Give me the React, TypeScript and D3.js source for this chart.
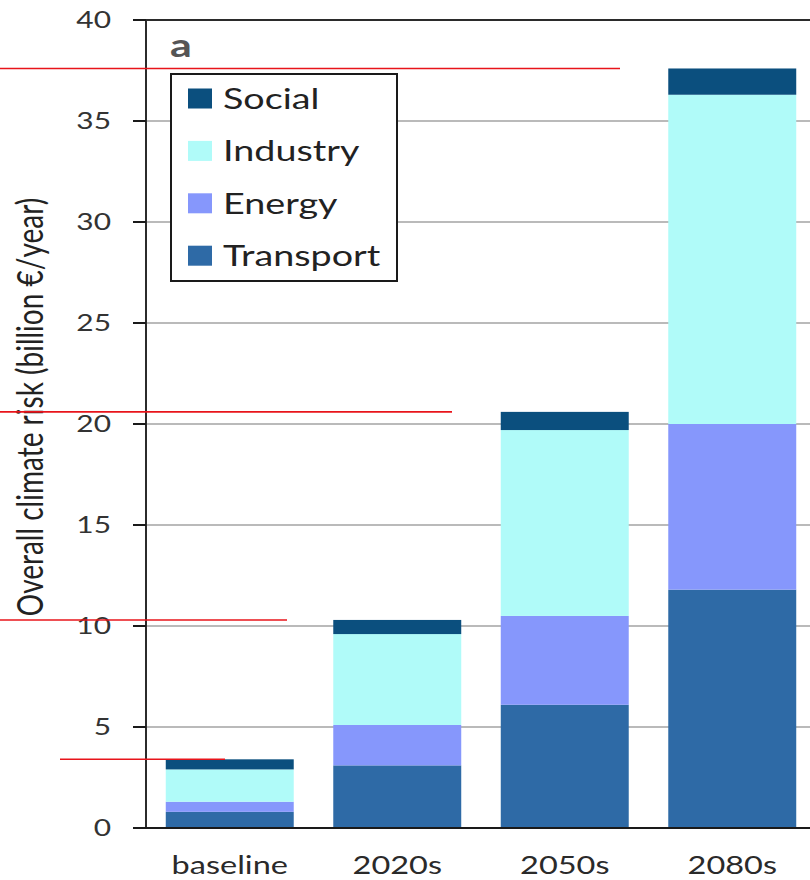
import React from "react";
import * as d3 from "d3";

// Overall climate risk by sector and period (billion €/year)
const periods = ["baseline", "2020s", "2050s", "2080s"];
const sectors = ["Transport", "Energy", "Industry", "Social"];
const transport = [0.8, 3.1, 6.1, 11.8];
const energy = [0.5, 2.0, 4.4, 8.2];
const industry = [1.6, 4.5, 9.2, 16.3];
const social = [0.5, 0.7, 0.9, 1.3];
const yTicks = [0, 5, 10, 15, 20, 25, 30, 35, 40];
const panelLabel = "a";
const yTitle = "Overall climate risk (billion €/year)";

const W = 810;
const H = 880;
const M = { left: 146, right: 816, top: 20, bottom: 828 };
const SX = 1.3; // horizontal glyph stretch
const FONT = "Lato, 'Open Sans', sans-serif";

const colors: Record<string, string> = {
  Social: "#0b4f7e",
  Industry: "#b0fbf9",
  Energy: "#8697fc",
  Transport: "#2e6aa6",
};

// Red marker lines at each bar total, with their horizontal extents
const markerSpans: [number, number][] = [
  [60, 225],
  [0, 287],
  [0, 452],
  [0, 620],
];

type TProps = {
  x: number;
  y: number;
  size: number;
  anchor?: "start" | "middle" | "end";
  color?: string;
  weight?: number | string;
  rotate?: number;
  children: React.ReactNode;
};

function SText({ x, y, size, anchor = "start", color = "#2a2a2a", weight = 400, rotate = 0, children }: TProps) {
  return (
    <text
      transform={`translate(${x},${y}) scale(${SX},1) rotate(${rotate})`}
      fontSize={size}
      fontFamily={FONT}
      fontWeight={weight}
      textAnchor={anchor}
      fill={color}
    >
      {children}
    </text>
  );
}

export default function App() {
  const rows = periods.map((p, i) => ({
    period: p,
    Transport: transport[i],
    Energy: energy[i],
    Industry: industry[i],
    Social: social[i],
  }));
  const stacked = d3.stack<any>().keys(sectors)(rows);
  const totals = rows.map((r) => sectors.reduce((s, k) => s + (r as any)[k], 0));

  const x = d3
    .scaleBand<string>()
    .domain(periods)
    .range([M.left, M.right])
    .paddingInner(0.236)
    .paddingOuter(0.118);
  const y = d3.scaleLinear().domain([0, 40]).range([M.bottom, M.top]);

  const legendOrder = [...sectors].reverse();

  return (
    <svg
      width={W}
      height={H}
      viewBox={`0 0 ${W} ${H}`}
      style={{ position: "absolute", left: 0, top: 0, background: "#fff" }}
    >
      <rect x={0} y={0} width={W} height={H} fill="#fff" />

      {/* gridlines */}
      {yTicks
        .filter((t) => t > 0 && t < 40)
        .map((t) => (
          <line key={`g${t}`} x1={M.left} x2={W} y1={y(t)} y2={y(t)} stroke="#a3a3a3" strokeWidth={1.3} />
        ))}

      {/* stacked bars */}
      {stacked.map((layer) => (
        <g key={layer.key} fill={colors[layer.key]}>
          {layer.map((d, i) => (
            <rect
              key={i}
              x={x(periods[i])}
              width={x.bandwidth()}
              y={y(d[1])}
              height={y(d[0]) - y(d[1])}
            />
          ))}
        </g>
      ))}

      {/* frame: top line, y axis, x axis */}
      <line x1={133} x2={W} y1={y(40)} y2={y(40)} stroke="#2b2b2b" strokeWidth={2} />
      <line x1={M.left} x2={M.left} y1={y(40)} y2={y(0)} stroke="#2b2b2b" strokeWidth={2} />
      <line x1={M.left} x2={W} y1={y(0)} y2={y(0)} stroke="#1a1a1a" strokeWidth={2} />

      {/* y ticks and labels */}
      {yTicks.map((t) => (
        <g key={`t${t}`}>
          <line x1={133} x2={M.left} y1={y(t)} y2={y(t)} stroke="#1a1a1a" strokeWidth={2} />
          <SText x={111} y={y(t) + 7.5} size={23} anchor="end" color="#333">
            {t}
          </SText>
        </g>
      ))}

      {/* x labels */}
      {periods.map((p) => (
        <SText key={p} x={(x(p) as number) + x.bandwidth() / 2} y={874} size={25} anchor="middle" color="#2a2a2a">
          {p}
        </SText>
      ))}

      {/* y title */}
      <SText x={43} y={407} size={28} anchor="middle" rotate={-90} color="#222">
        {yTitle}
      </SText>

      {/* panel label */}
      <SText x={170} y={57} size={33} weight={700} color="#555">
        {panelLabel}
      </SText>

      {/* legend */}
      <g>
        <rect x={171} y={74} width={226} height={207} fill="#fff" stroke="#1a1a1a" strokeWidth={2} />
        {legendOrder.map((k, i) => {
          const cy = 98.5 + i * 52.4;
          return (
            <g key={k}>
              <rect x={188} y={cy - 10} width={24} height={20} fill={colors[k]} />
              <SText x={223} y={cy + 10.5} size={29} color="#222">
                {k}
              </SText>
            </g>
          );
        })}
      </g>

      {/* red marker lines at bar totals */}
      {totals.map((t, i) => (
        <line
          key={`m${i}`}
          x1={markerSpans[i][0]}
          x2={markerSpans[i][1]}
          y1={y(t)}
          y2={y(t)}
          stroke="#e8141b"
          strokeWidth={1.6}
        />
      ))}
    </svg>
  );
}
